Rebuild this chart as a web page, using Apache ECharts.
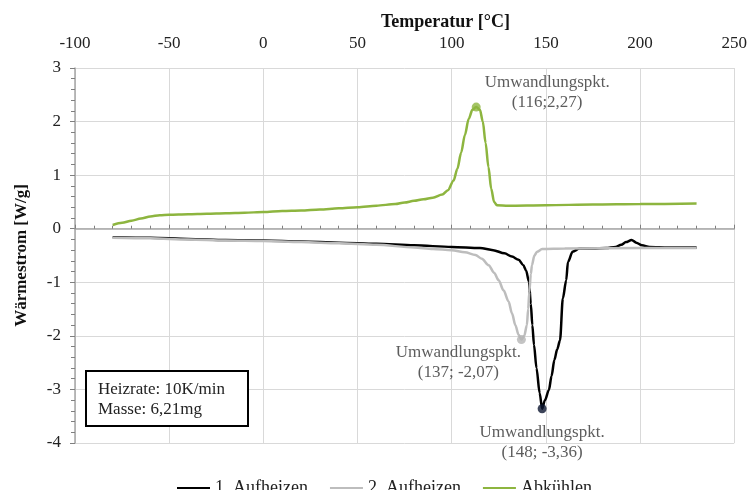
<!DOCTYPE html>
<html>
<head>
<meta charset="utf-8">
<script src="https://cdn.jsdelivr.net/npm/echarts@6/dist/echarts.min.js"></script>
<style>html,body{margin:0;padding:0;background:#fff}#c{width:750px;height:490px}</style>
</head>
<body>
<div id="c"></div>
<script>
// ---- data ----
var seriesNames = ['1. Aufheizen', '2. Aufheizen', 'Abkühlen'];

var heat1T = [-80, -60, -40, -20, 0, 20, 40, 60, 80, 100, 115, 122, 128, 132, 135.5, 138, 139.5, 141, 142, 142.8, 143.7, 145, 146.7, 148, 149.5, 151.6, 153, 154.5, 156, 157.5, 159, 160.8, 161.7, 164.2, 167.8, 175, 182, 187, 190, 192.5, 195.5, 198, 201, 205, 215, 230];
var heat1W = [-0.16, -0.17, -0.19, -0.21, -0.22, -0.24, -0.26, -0.28, -0.31, -0.34, -0.36, -0.40, -0.46, -0.52, -0.58, -0.68, -0.78, -0.99, -1.40, -1.80, -2.17, -2.60, -3.07, -3.36, -3.20, -3.01, -2.75, -2.45, -2.25, -2.08, -1.30, -0.96, -0.62, -0.43, -0.37, -0.37, -0.36, -0.34, -0.30, -0.25, -0.21, -0.26, -0.31, -0.34, -0.35, -0.35];

var heat2T = [-80, -60, -40, -20, 0, 20, 40, 60, 80, 90, 100, 107, 112.6, 116, 119.6, 122.5, 124.9, 127.5, 130.2, 132, 133.8, 135.5, 137, 138.5, 139.9, 140.6, 141.2, 142, 142.6, 143.9, 145.3, 148, 160, 200, 230];
var heat2W = [-0.17, -0.18, -0.20, -0.22, -0.23, -0.25, -0.27, -0.30, -0.35, -0.38, -0.40, -0.44, -0.49, -0.56, -0.68, -0.82, -0.96, -1.15, -1.36, -1.58, -1.80, -1.98, -2.07, -2.00, -1.80, -1.50, -1.18, -0.85, -0.68, -0.50, -0.43, -0.38, -0.37, -0.36, -0.36];

var coolT = [-80, -75, -70, -65, -60, -55, -50, -40, -30, -20, -10, 0, 10, 20, 30, 40, 50, 60, 70, 75, 80, 85, 90, 95, 98, 101, 103, 105, 107, 109, 111, 113, 115, 116.5, 118, 119.5, 121, 122.5, 124, 130, 150, 175, 200, 230];
var coolW = [0.07, 0.11, 0.15, 0.19, 0.23, 0.25, 0.26, 0.27, 0.28, 0.29, 0.30, 0.31, 0.33, 0.34, 0.36, 0.38, 0.40, 0.43, 0.46, 0.49, 0.52, 0.55, 0.58, 0.64, 0.72, 0.90, 1.12, 1.42, 1.75, 2.05, 2.22, 2.27, 2.22, 2.00, 1.60, 1.15, 0.74, 0.50, 0.44, 0.43, 0.44, 0.45, 0.46, 0.47];

var peakT = [148, 137, 113];
var peakW = [-3.36, -2.07, 2.27];
var peakLabels = ['(148; -3,36)', '(137; -2,07)', '(116;2,27)'];
var peakTitle = 'Umwandlungspkt.';

var xTicks = {min: -100, max: 250, step: 50};
var yTicks = {min: -4, max: 3, step: 1};

var infoLines = ['Heizrate: 10K/min', 'Masse: 6,21mg'];
var xTitle = 'Temperatur [°C]';
var yTitle = 'Wärmestrom [W/g]';

// ---- build ----
function pairs(xs, ys) { return xs.map(function (x, i) { return [x, ys[i]]; }); }
var colors = ['#000000', '#bdbdbd', '#8db53f'];
var dotColors = ['#0b1530', '#b5b5b5', '#8db53f'];
var labelOffsets = [[0, 34], [-63, 23], [71, -15]];
var serif = 'Liberation Serif';

var chart = echarts.init(document.getElementById('c'), null, {renderer: 'canvas'});

var lineData = [pairs(heat1T, heat1W), pairs(heat2T, heat2W), pairs(coolT, coolW)];
var series = lineData.map(function (d, i) {
  return {
    name: seriesNames[i], type: 'line', data: d, xAxisIndex: 0, yAxisIndex: 0,
    symbol: 'none', smooth: 0.3, smoothMonotone: 'x',
    lineStyle: {color: colors[i], width: 2.5}, itemStyle: {color: colors[i]},
    z: 3, animation: false
  };
});
peakT.forEach(function (t, i) {
  series.push({
    name: 'peak' + i, type: 'scatter', data: [[t, peakW[i]]], xAxisIndex: 0, yAxisIndex: 0,
    symbolSize: 9, itemStyle: {color: dotColors[i]}, z: 5, animation: false,
    label: {
      show: true, position: 'inside', offset: labelOffsets[i],
      formatter: peakTitle + '\n' + peakLabels[i],
      fontFamily: serif, fontSize: 17, color: '#333', lineHeight: 20, align: 'center', verticalAlign: 'middle'
    }
  });
});

var option = {
  backgroundColor: '#fff',
  animation: false,
  title: {text: xTitle, left: 376, top: 8, textStyle: {fontFamily: serif, fontSize: 18, fontWeight: 'bold', color: '#111'}},
  grid: {left: 75, right: 15, top: 68, bottom: 47, containLabel: false},
  legend: {
    data: seriesNames, left: 172, top: 474, itemWidth: 33, itemHeight: 14, itemGap: 22,
    icon: 'path://M0,6 L33,6 L33,8 L0,8 Z',
    textStyle: {fontFamily: serif, fontSize: 18, color: '#222'}
  },
  xAxis: [
    {type: 'value', position: 'top', min: xTicks.min, max: xTicks.max, interval: xTicks.step,
     axisLine: {show: false, onZero: false}, axisTick: {show: false},
     axisLabel: {fontFamily: serif, fontSize: 17, color: '#222', margin: 16},
     splitLine: {show: true, lineStyle: {color: '#d9d9d9', width: 1}}},
    {type: 'value', position: 'bottom', min: xTicks.min, max: xTicks.max, interval: xTicks.step,
     axisLine: {show: true, onZero: true, lineStyle: {color: '#a6a6a6', width: 1.5}},
     axisTick: {show: true, inside: true, length: 4, lineStyle: {color: '#7f7f7f'}},
     minorTick: {show: true, splitNumber: 5, length: 3, lineStyle: {color: '#7f7f7f'}},
     axisLabel: {show: false}, splitLine: {show: false}, z: 4}
  ],
  yAxis: {
    type: 'value', min: yTicks.min, max: yTicks.max, interval: yTicks.step,
    name: yTitle, nameLocation: 'middle', nameGap: 45, nameRotate: 90,
    nameTextStyle: {fontFamily: serif, fontSize: 17, fontWeight: 'bold', color: '#111'},
    axisLine: {show: true, onZero: false, lineStyle: {color: '#a6a6a6', width: 1.5}},
    axisTick: {show: true, length: 5, lineStyle: {color: '#7f7f7f'}},
    minorTick: {show: true, splitNumber: 5, length: 4, lineStyle: {color: '#7f7f7f'}},
    axisLabel: {fontFamily: serif, fontSize: 17, color: '#222', margin: 14},
    splitLine: {show: true, lineStyle: {color: '#d9d9d9', width: 1}}
  },
  graphic: [
    {type: 'rect', left: 85, top: 370, z: 100, zlevel: 1,
     shape: {x: 0, y: 0, width: 162, height: 55}, style: {fill: '#fff', stroke: '#000', lineWidth: 2}},
    {type: 'text', left: 98, top: 380, z: 101, zlevel: 1,
     style: {text: infoLines.join('\n'), fontFamily: serif, fontSize: 17, lineHeight: 20, fill: '#222'}}
  ],
  series: series
};
chart.setOption(option);
</script>
</body>
</html>
